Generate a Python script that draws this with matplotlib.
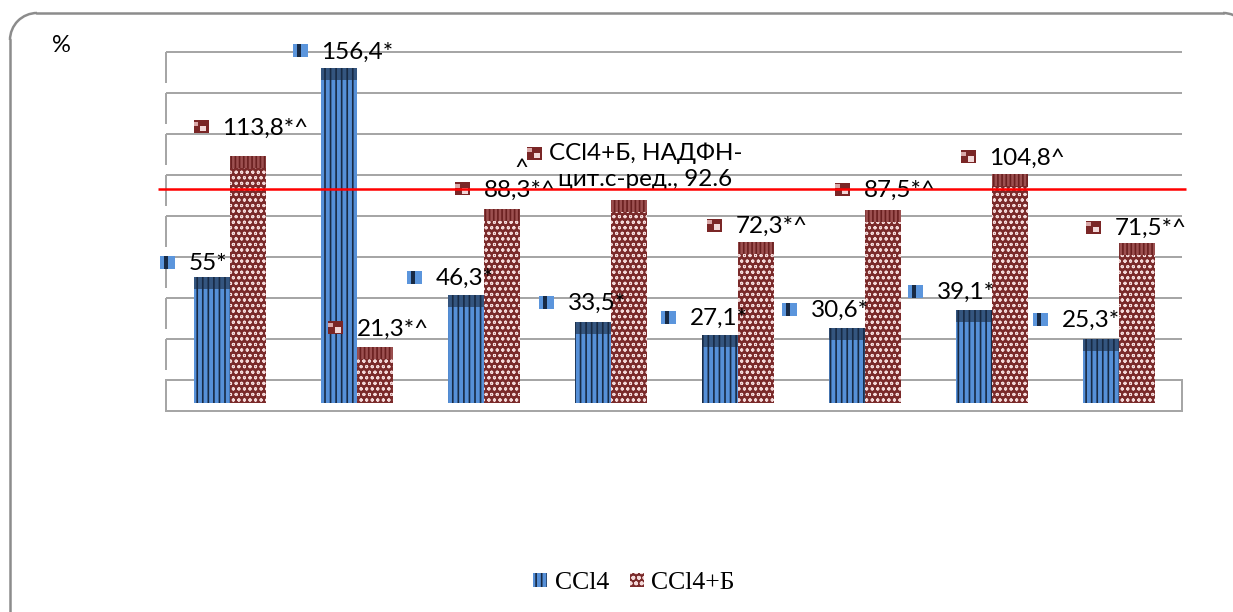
import matplotlib
matplotlib.use("Agg")
import matplotlib.pyplot as plt
from matplotlib.patches import Rectangle, Arc
from matplotlib.lines import Line2D
from matplotlib.transforms import IdentityTransform
import numpy as np

# ---- data -------------------------------------------------------------
series_names = ["CCl4", "CCl4+Б"]
named_category = "НАДФН-цит.с-ред."          # category 4, named in its label
ccl4 = [55, 156.4, 46.3, 33.5, 27.1, 30.6, 39.1, 25.3]
ccl4_b = [113.8, 21.3, 88.3, 92.6, 72.3, 87.5, 104.8, 71.5]
ccl4_marks = ["*", "*", "*", "*", "*", "*", "*", "*"]
ccl4_b_marks = ["*^", "*^", "*^", "", "*^", "*^", "^", "*^"]
grid_values = [0, 20, 40, 60, 80, 100, 120, 140, 160]
ref_level = 103.4

# ---- layout (pixels) --------------------------------------------------
W, H, DPI = 1233, 612, 100
PLOT_L, PLOT_R = 166, 1182
FRONT_BASE, FRONT_TOP = 403, 30
PX_PER_UNIT = 2.066
BACK_BASE, BACK_TOP = 380.3, 51.7
FLOOR_BOTTOM = 411
BAND_PX = 12

# label nudges: left edge of text relative to bar centre, height above bar top
blue_dx = [-23, -17, -30, -25, -30, -36, -37, -39]
blue_dy = [26, 28, 29, 30, 29, 29, 30, 30]
brown_dx = [-25.5, -18, -18, None, -20, -19, -20, -22]
brown_dy = [40, 30, 30.6, None, 27.6, 32, 28.5, 27]

BLUE_FACE, BLUE_LINE = "#5690d8", "#182a44"
BLUE_TOP_FACE = "#34557f"
BROWN_FACE, BROWN_LINE = "#7a2a2a", "#f4dada"
BROWN_TOP_FACE = "#9c5050"
GRID = "#a6a6a6"

plt.rcParams["hatch.linewidth"] = 1.2
plt.rcParams["font.family"] = ["Lato", "DejaVu Sans"]

fig = plt.figure(figsize=(W / DPI, H / DPI), dpi=DPI)
fig.patch.set_facecolor("white")


def fx(px):
    return px / W


def fy(py):
    return 1 - py / H


n = len(ccl4)
x = np.arange(n)

# ---- back wall with gridlines ----------------------------------------
ax_back = fig.add_axes([fx(PLOT_L), fy(BACK_BASE), (PLOT_R - PLOT_L) / W,
                        (BACK_BASE - BACK_TOP) / H])
ax_back.set_xlim(-0.5, n - 0.5)
ax_back.set_ylim(0, grid_values[-1])
ax_back.axis("off")
back_unit = (BACK_BASE - BACK_TOP) / grid_values[-1]
grid_lw = 2.0 * 72 / DPI
for v in grid_values[1:]:
    ax_back.plot([-0.5, n - 0.5], [v, v], color=GRID, lw=grid_lw,
                 solid_capstyle="butt", clip_on=False, zorder=1)
    ax_back.plot([-0.5, -0.5], [v, v - 31 / back_unit], color=GRID, lw=grid_lw,
                 solid_capstyle="butt", clip_on=False, zorder=1)
floor_depth = (FLOOR_BOTTOM - BACK_BASE) / back_unit
ax_back.add_patch(Rectangle((-0.5, -floor_depth), n, floor_depth, facecolor="white",
                            edgecolor=GRID, lw=grid_lw, clip_on=False, zorder=1))

# ---- front plane with the columns --------------------------------------
ax = fig.add_axes([fx(PLOT_L), fy(FRONT_BASE), (PLOT_R - PLOT_L) / W,
                   (FRONT_BASE - FRONT_TOP) / H])
ax.set_xlim(-0.5, n - 0.5)
ax.set_ylim(0, (FRONT_BASE - FRONT_TOP) / PX_PER_UNIT)
ax.axis("off")
ax.patch.set_alpha(0)

sx = n / (PLOT_R - PLOT_L)      # data units per pixel, horizontal
sy = 1 / PX_PER_UNIT            # data units per pixel, vertical
w = 36 * sx
band = BAND_PX * sy

blue_bars = ax.bar(x - w / 2, ccl4, w, color=BLUE_FACE, edgecolor=BLUE_LINE,
                   hatch="|||", lw=0, zorder=3, label=series_names[0])
ax.bar(x - w / 2, [band] * n, w, bottom=ccl4, color=BLUE_TOP_FACE,
       edgecolor=BLUE_LINE, hatch="|||", lw=0, zorder=3)
with plt.rc_context({"hatch.linewidth": 0.7}):
    brown_bars = ax.bar(x + w / 2, ccl4_b, w, color=BROWN_FACE, edgecolor=BROWN_LINE,
                        hatch="ooo", lw=0, zorder=3, label=series_names[1])
for p in brown_bars:
    if hasattr(p, "set_hatch_linewidth"):
        p.set_hatch_linewidth(0.7)
ax.bar(x + w / 2, [band] * n, w, bottom=ccl4_b, color=BROWN_TOP_FACE,
       edgecolor="#6a2020", hatch="||||", lw=0, zorder=3)


def key_marker(cx, cy, kind):
    """Small legend-key square drawn in front of a data label."""
    mw, mh = 15 * sx, 13 * sy
    if kind == 0:
        ax.add_patch(Rectangle((cx - mw / 2, cy - mh / 2), mw, mh, facecolor="#5b95dc",
                               lw=0, zorder=5, clip_on=False))
        ax.add_patch(Rectangle((cx - mw * 0.22, cy - mh / 2), mw * 0.28, mh,
                               facecolor=BLUE_LINE, lw=0, zorder=6, clip_on=False))
    else:
        ax.add_patch(Rectangle((cx - mw / 2, cy - mh / 2), mw, mh, facecolor="#7a2626",
                               lw=0, zorder=5, clip_on=False))
        ax.add_patch(Rectangle((cx - mw * 0.05, cy - mh * 0.35), mw * 0.4, mh * 0.4,
                               facecolor="#f2d8d8", lw=0, zorder=6, clip_on=False))
        ax.add_patch(Rectangle((cx - mw / 2, cy + mh * 0.1), mw * 0.3, mh * 0.3,
                               facecolor="#d9a8a8", lw=0, zorder=6, clip_on=False))


def fmt(v):
    return f"{v:g}".replace(".", ",")


label_size = 17.5
for i in range(n):
    # CCl4 labels
    cx = x[i] - w / 2
    tx = cx + blue_dx[i] * sx
    ty = ccl4[i] + blue_dy[i] * sy
    ax.text(tx, ty, fmt(ccl4[i]) + ccl4_marks[i], ha="left", va="center",
            fontsize=label_size, zorder=7, clip_on=False)
    key_marker(tx - 21 * sx, ty + 1 * sy, 0)

    # CCl4+Б labels
    cx = x[i] + w / 2
    if brown_dx[i] is None:
        tx = cx + 17 * sx
        ty = ccl4_b[i] + 45 * sy
        ax.text(tx, ty, f"{series_names[1]}, {named_category[:6]}\n"
                        f"{named_category[6:]}, {ccl4_b[i]:g}",
                ha="center", va="center", multialignment="center",
                fontsize=label_size, linespacing=1.3, zorder=7, clip_on=False)
        key_marker(cx - 94 * sx, ty + 13 * sy, 1)
        ax.text(cx - 107 * sx, ty - 2 * sy, "^", ha="center", va="center",
                fontsize=label_size, zorder=7, clip_on=False)
        continue
    tx = cx + brown_dx[i] * sx
    ty = ccl4_b[i] + brown_dy[i] * sy
    ax.text(tx, ty, fmt(ccl4_b[i]) + ccl4_b_marks[i], ha="left", va="center",
            fontsize=label_size, zorder=7, clip_on=False)
    key_marker(tx - 21 * sx, ty + 1 * sy, 1)

# reference line across the plot
ax.plot([-0.5 - 8 * sx, n - 0.5 + 4 * sx], [ref_level, ref_level], color="#ff0000",
        lw=2.5 * 72 / DPI, zorder=9, clip_on=False, solid_capstyle="butt")

# ---- legend, axis caption, frame ---------------------------------------
fig.legend(handles=[blue_bars, brown_bars], labels=series_names, loc="center",
           bbox_to_anchor=(fx(634), fy(583)), ncol=2, frameon=False,
           prop={"family": "Liberation Serif", "size": 18.5},
           handlelength=0.55, handleheight=0.5, handletextpad=0.3,
           columnspacing=0.8, borderpad=0)

fig.text(fx(61), fy(45), "%", ha="center", va="center", fontsize=17)

# rounded outer frame (pixel coordinates, origin bottom-left)
FRAME_L, FRAME_T, FRAME_R, RAD = 10, 13, 1250, 27
frame_kw = dict(color="#8c8c8c", lw=2.5 * 72 / DPI, transform=IdentityTransform())
fig.lines.append(Line2D([FRAME_L, FRAME_L], [-5, H - FRAME_T - RAD], figure=fig,
                        **frame_kw))
fig.lines.append(Line2D([FRAME_L + RAD, FRAME_R - RAD], [H - FRAME_T, H - FRAME_T],
                        figure=fig, **frame_kw))
for cxp, a1, a2 in [(FRAME_L + RAD, 90, 180), (FRAME_R - RAD, 0, 90)]:
    fig.patches.append(Arc((cxp, H - FRAME_T - RAD), 2 * RAD, 2 * RAD, theta1=a1,
                           theta2=a2, edgecolor="#8c8c8c", lw=2.5 * 72 / DPI,
                           transform=IdentityTransform(), figure=fig))

fig.savefig("out.png", dpi=DPI)
